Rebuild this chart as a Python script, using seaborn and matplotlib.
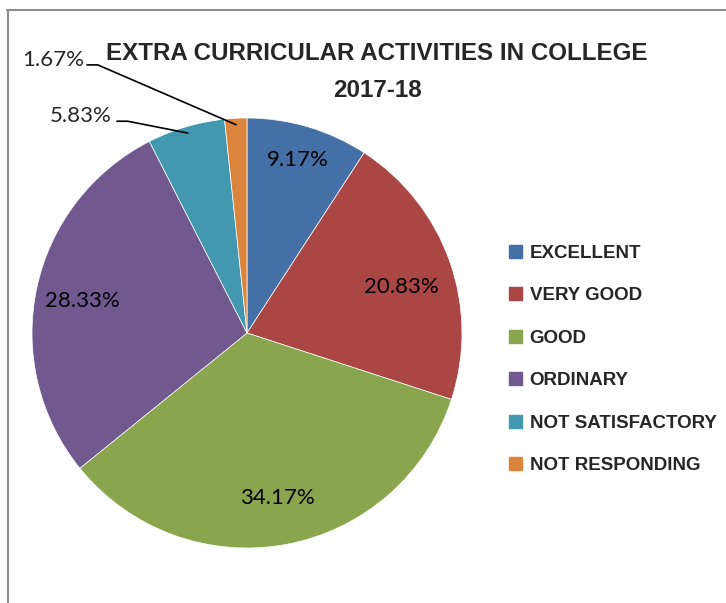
import matplotlib
matplotlib.use("Agg")
import matplotlib.pyplot as plt
import seaborn as sns
import numpy as np
from matplotlib.lines import Line2D

sns.set_style("white")
plt.rcParams['font.family'] = ['Lato', 'DejaVu Sans']
bold_family = ['Liberation Sans', 'DejaVu Sans']

# data
categories = ['EXCELLENT', 'VERY GOOD', 'GOOD', 'ORDINARY', 'NOT SATISFACTORY', 'NOT RESPONDING']
percentages = [9.17, 20.83, 34.17, 28.33, 5.83, 1.67]
colors = sns.color_palette(['#4470A5', '#AA4644', '#89A54E', '#71588F', '#4198AF', '#DB843D'])
title = 'EXTRA CURRICULAR ACTIVITIES IN COLLEGE\n2017-18'

W, H = 726, 603
fig = plt.figure(figsize=(W / 100, H / 100), dpi=100)

# pie centre ~ (247, 333) px, radius ~215 px
cx, cy, r = 247, 333, 215
ax = fig.add_axes([(cx - r) / W, (H - cy - r) / H, 2 * r / W, 2 * r / H])

def fmt(p):
    return '' if p < 7 else f'{p:.2f}%'

wedges, texts, autotexts = ax.pie(
    percentages, colors=colors, startangle=90, counterclock=False,
    autopct=fmt, pctdistance=0.78,
    wedgeprops=dict(edgecolor='white', linewidth=0.5),
    textprops=dict(fontsize=16, color='black'))
ax.set_xlim(-1, 1)
ax.set_ylim(-1, 1)
ax.set_aspect('equal')
ax.axis('off')

# excellent / very good / ordinary labels nudged like the original
w0 = wedges[0]
ang = np.deg2rad((w0.theta1 + w0.theta2) / 2)
autotexts[0].set_position((0.84 * np.cos(ang), 0.84 * np.sin(ang)))
w1 = wedges[1]
ang = np.deg2rad((w1.theta1 + w1.theta2) / 2 - 3)
autotexts[1].set_position((0.75 * np.cos(ang), 0.75 * np.sin(ang)))
w3 = wedges[3]
ang = np.deg2rad((w3.theta1 + w3.theta2) / 2 + 1)
autotexts[3].set_position((0.78 * np.cos(ang), 0.78 * np.sin(ang)))

# outside labels with leader lines for small slices
label_pos = {4: (-0.775, 1.01), 5: (-0.90, 1.27)}
line_start = {4: (-0.605, 0.985), 5: (-0.744, 1.247)}
for i, (tx, ty) in label_pos.items():
    w = wedges[i]
    a = np.deg2rad((w.theta1 + w.theta2) / 2)
    end = (0.97 * np.cos(a), 0.97 * np.sin(a))
    ax.annotate(f'{percentages[i]:.2f}%', xy=end, xytext=(tx, ty),
                ha='center', va='center', fontsize=16, annotation_clip=False)
    sx, sy = line_start[i]
    ax.plot([sx, sx + 0.05, end[0]], [sy, sy, end[1]], color='black', lw=1.2, clip_on=False)

fig.text(377 / W, 1 - 72 / H, title, ha='center', va='center', fontsize=17.4,
         fontweight='bold', family=bold_family, linespacing=1.75)

handles = [plt.Rectangle((0, 0), 1, 1, color=c) for c in colors]
fig.legend(handles, categories, loc='upper left', bbox_to_anchor=(492 / W, 1 - 228 / H),
           frameon=False, handlelength=0.7, handleheight=0.7, handletextpad=0.4,
           labelspacing=1.35, prop=dict(weight='bold', size=13.5, family=bold_family))

# chart border (top and left)
bc = '#8c8c8c'
fig.add_artist(Line2D([7 / W, 1], [1 - 9.5 / H, 1 - 9.5 / H], color=bc, lw=1.5))
fig.add_artist(Line2D([7.5 / W, 7.5 / W], [0, 1 - 9.5 / H], color=bc, lw=1.5))

fig.savefig('out.png', dpi=100)
